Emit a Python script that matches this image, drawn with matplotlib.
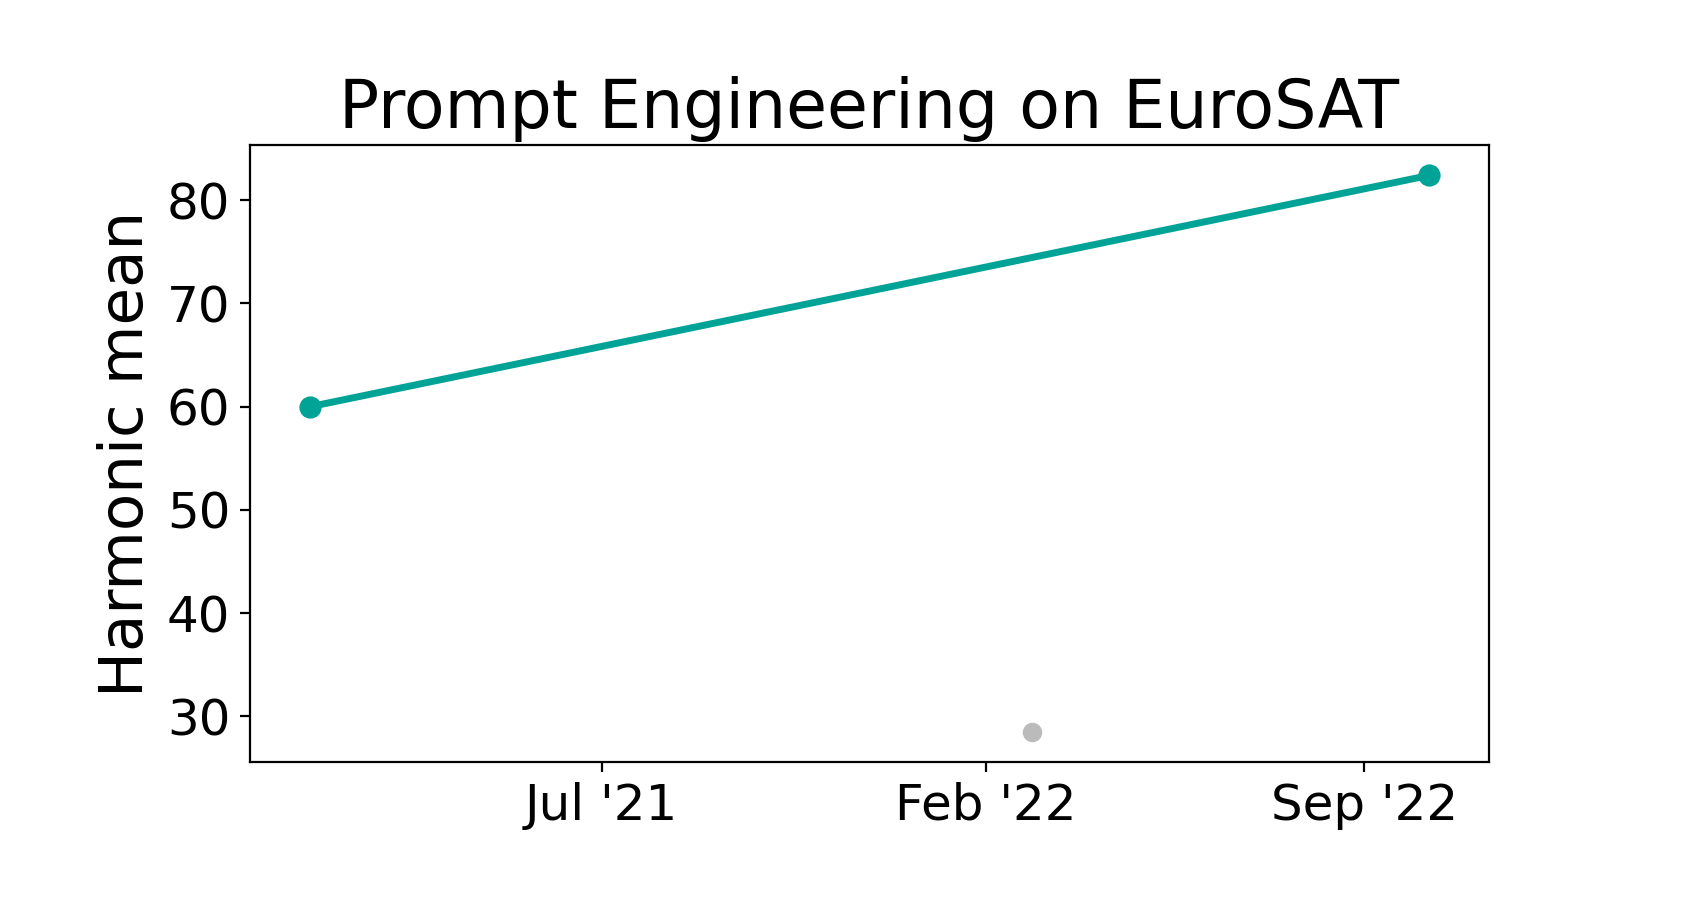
import matplotlib
matplotlib.use("Agg")
import matplotlib.pyplot as plt
import matplotlib.dates as mdates
from datetime import datetime

# main series (teal line)
line_dates = [datetime(2021, 1, 19), datetime(2022, 10, 7)]
line_vals = [60.0, 82.4]

# single grey point
other_dates = [datetime(2022, 2, 27)]
other_vals = [28.5]

tick_dates = [datetime(2021, 7, 1), datetime(2022, 2, 1), datetime(2022, 9, 1)]
tick_labels = ["Jul '21", "Feb '22", "Sep '22"]

fig = plt.figure(figsize=(8.5, 4.5), dpi=200)
ax = fig.add_axes([0.147, 0.153, 0.729, 0.686])

ax.plot(other_dates, other_vals, "o", color="#bbbbbb", markersize=6)
ax.plot(line_dates, line_vals, "-o", color="#00a396", linewidth=2.5, markersize=7)
ax.margins(x=0.054, y=0.055)

ax.set_xticks(mdates.date2num(tick_dates))
ax.set_xticklabels(tick_labels)
ax.tick_params(labelsize=18)

ax.set_title("Prompt Engineering on EuroSAT", fontsize=24)
ax.set_ylabel("Harmonic mean", fontsize=22)

plt.savefig("out.png", dpi=200)
